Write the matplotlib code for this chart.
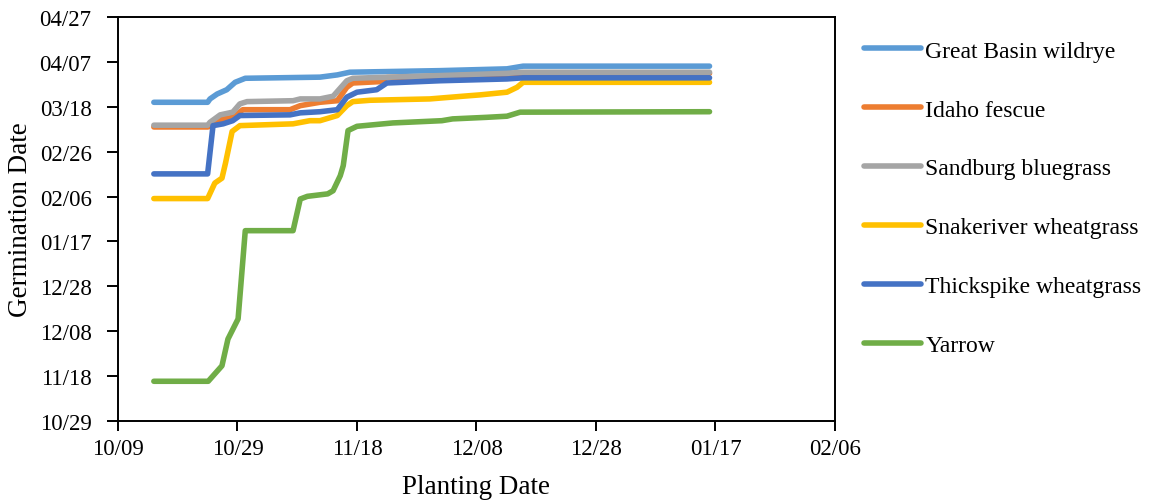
import numpy as np
import pandas as pd
import matplotlib
matplotlib.use("Agg")
import matplotlib.pyplot as plt
import matplotlib.dates as mdates

# planting day = days after 10/09, germination day = days after 10/29
plant_start = pd.Timestamp("2018-10-09")
germ_start = pd.Timestamp("2018-10-29")

species = ["Great Basin wildrye", "Idaho fescue", "Sandburg bluegrass",
           "Snakeriver wheatgrass", "Thickspike wheatgrass", "Yarrow"]
colors = ["#5B9BD5", "#ED7D31", "#A5A5A5", "#FFC000", "#4472C4", "#70AD47"]

gbw_x = [6, 15, 15.4, 16.6, 18.2, 19.6, 21.3, 33.8, 36.7, 38.8, 53.9, 65.1, 67.8, 99]
gbw_y = [142.0, 142.0, 143.5, 145.7, 147.6, 150.9, 152.7, 153.2, 154.2, 155.4, 156.1, 156.9, 158.1, 158.1]

idf_x = [6, 15, 15.4, 17.1, 19.2, 20.9, 28.8, 30.5, 33.8, 36.7, 38.3, 39.3, 43.8, 45.0, 65.1, 67.8, 99]
idf_y = [131.0, 131.0, 131.3, 134.3, 135.3, 138.7, 138.7, 140.5, 142.0, 142.7, 148.7, 150.6, 151.2, 153.0, 154.4, 154.9, 154.9]

sbg_x = [6, 15, 15.4, 17.1, 19.2, 20.4, 21.6, 29.3, 30.5, 33.8, 36.0, 38.3, 39.3, 53.9, 65.1, 67.8, 99]
sbg_y = [131.8, 131.8, 133.1, 136.4, 137.6, 141.3, 142.3, 142.7, 143.5, 143.5, 144.7, 151.6, 152.7, 153.9, 154.9, 155.4, 155.4]

srw_x = [6, 15, 16.2, 17.4, 18.0, 19.1, 20.4, 29.3, 32.1, 33.8, 36.7, 38.3, 39.3, 42.2, 52.2, 57.7, 60.6, 65.1, 66.8, 67.8, 99]
srw_y = [99.1, 99.1, 106.0, 108.2, 115.0, 129.0, 131.6, 132.4, 133.8, 133.8, 136.1, 140.5, 142.3, 142.9, 143.5, 144.7, 145.3, 146.5, 148.7, 150.9, 150.9]

tsw_x = [6, 15, 15.9, 17.6, 19.2, 20.4, 28.8, 30.5, 33.8, 36.7, 38.3, 40.0, 43.3, 45.0, 53.9, 65.1, 67.8, 99]
tsw_y = [110.1, 110.1, 131.6, 132.4, 133.8, 136.1, 136.4, 137.3, 137.8, 138.7, 144.3, 146.5, 147.6, 150.6, 151.6, 152.4, 152.9, 152.9]

yar_x = [6, 15.1, 17.4, 18.4, 20.1, 21.3, 29.3, 30.5, 31.7, 35.1, 36.0, 37.2, 37.7, 38.5, 40.0, 46.0, 54.2, 56.0, 61.7, 65.1, 67.3, 99]
yar_y = [17.7, 17.7, 24.6, 36.5, 45.5, 84.8, 84.8, 98.9, 100.1, 101.2, 102.6, 109.3, 113.8, 129.4, 131.3, 132.8, 133.8, 134.6, 135.3, 135.8, 137.6, 137.8]

series_x = [gbw_x, idf_x, sbg_x, srw_x, tsw_x, yar_x]
series_y = [gbw_y, idf_y, sbg_y, srw_y, tsw_y, yar_y]

plt.rcParams["font.family"] = ["Liberation Serif", "DejaVu Serif"]

fig = plt.figure(figsize=(11.5, 5.02), dpi=100)
ax = fig.add_axes([118/1150, 80/502, 717/1150, 404/502])

for name, c, xs, ys in zip(species, colors, series_x, series_y):
    xd = plant_start + pd.to_timedelta(np.array(xs), unit="D")
    yd = germ_start + pd.to_timedelta(np.array(ys), unit="D")
    ax.plot(xd, yd, color=c, lw=4.0, label=name,
            solid_capstyle="round", solid_joinstyle="round")

xt = pd.date_range("2018-10-09", "2019-02-06", freq="20D")
yt = pd.date_range("2018-10-29", "2019-04-27", freq="20D")
ax.set_xticks(xt)
ax.set_yticks(yt)
ax.set_xlim(xt[0], xt[-1])
ax.set_ylim(yt[0], yt[-1])
ax.xaxis.set_major_formatter(mdates.DateFormatter("%m/%d"))
ax.yaxis.set_major_formatter(mdates.DateFormatter("%m/%d"))

for s in ax.spines.values():
    s.set_linewidth(1.4)
ax.tick_params(axis="both", labelsize=16.5, length=7, width=1.4, direction="out")
ax.tick_params(axis="x", pad=5)
ax.tick_params(axis="y", length=8, pad=11)

ax.set_xlabel("Planting Date", fontsize=19.5, labelpad=11)
ax.set_ylabel("Germination Date", fontsize=19.5, labelpad=5)

ax.legend(loc="upper left", bbox_to_anchor=(864/1150, 0.918),
          bbox_transform=fig.transFigure, frameon=False,
          fontsize=17, handlelength=2.4, handletextpad=0.2,
          labelspacing=1.58, borderpad=0, borderaxespad=0)

fig.savefig("out.png", dpi=100)
